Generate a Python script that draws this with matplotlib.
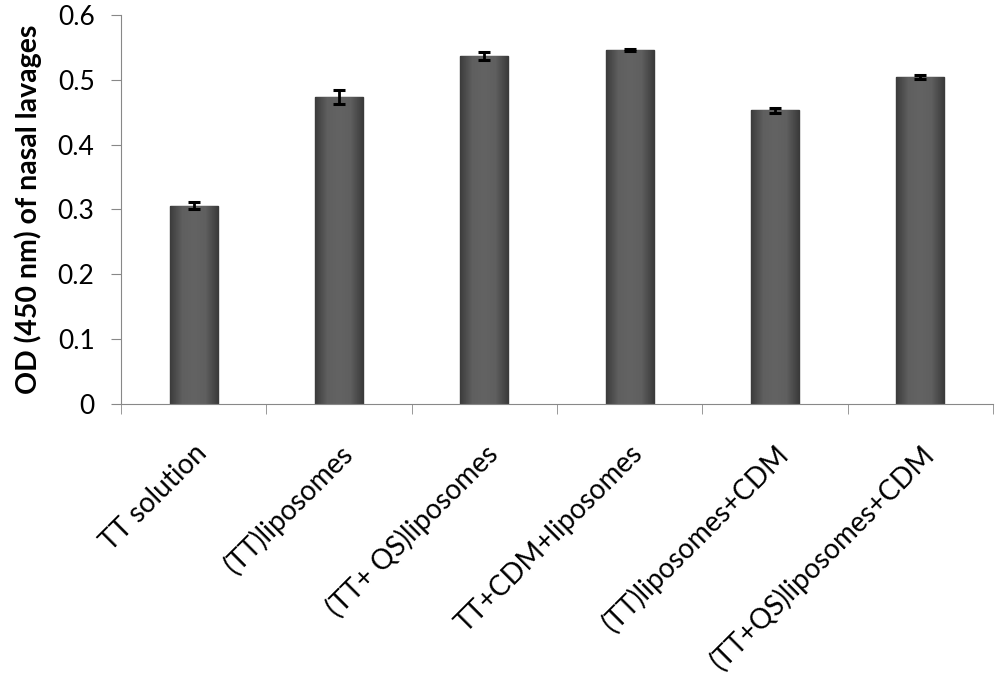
import numpy as np
import matplotlib.pyplot as plt
from matplotlib.ticker import FixedLocator
from matplotlib.colors import LinearSegmentedColormap
import matplotlib.transforms as mtrans

groups = ['TT solution', '(TT)liposomes', '(TT+ QS)liposomes', 'TT+CDM+liposomes',
          '(TT)liposomes+CDM', '(TT+QS)liposomes+CDM']
od = [0.306, 0.474, 0.537, 0.546, 0.453, 0.504]
err = [0.005, 0.011, 0.006, 0.002, 0.004, 0.003]
yticks = [0, 0.1, 0.2, 0.3, 0.4, 0.5, 0.6]
ytick_labels = ['0', '0.1', '0.2', '0.3', '0.4', '0.5', '0.6']

plt.rcParams['font.family'] = ['Lato', 'DejaVu Sans']

fig = plt.figure(figsize=(10, 6.88), dpi=100)
ax = fig.add_axes([0.121, 0.413, 0.872, 0.565])

x = np.arange(len(groups))
bars = ax.bar(x, od, width=0.33, color='#595959', edgecolor='#3a3a3a', linewidth=1.0, zorder=2)

# horizontal shading inside each bar: darker at the sides
shade = LinearSegmentedColormap.from_list('shade', ['#3c3c3c', '#5f5f5f', '#636363', '#5f5f5f', '#3c3c3c'])
grad = np.linspace(0, 1, 64).reshape(1, -1)
for b in bars:
    x0, w, h = b.get_x(), b.get_width(), b.get_height()
    im = ax.imshow(grad, cmap=shade, aspect='auto', extent=[x0, x0 + w, 0, h], zorder=2.1)
    im.set_clip_path(b)

ax.errorbar(x, od, yerr=err, fmt='none', ecolor='black', elinewidth=2,
            capsize=4.5, capthick=2.2, zorder=3)

ax.set_xlim(-0.5, len(groups) - 0.5)
ax.set_ylim(0, 0.6)
ax.set_yticks(yticks)
ax.set_yticklabels(ytick_labels)

ax.set_xticks(x)
ax.set_xticklabels(groups, rotation=45, ha='right', rotation_mode='anchor', fontsize=20)
offset = mtrans.ScaledTranslation(10 / 100, 0, fig.dpi_scale_trans)
for lab in ax.get_xticklabels():
    lab.set_transform(lab.get_transform() + offset)
ax.xaxis.set_minor_locator(FixedLocator(np.arange(-0.5, len(groups), 1.0)))
ax.tick_params(axis='x', which='major', length=0, pad=26)
ax.tick_params(axis='x', which='minor', length=7, color='#888888')
ax.tick_params(axis='y', length=7, color='#888888', labelsize=19, pad=12)

for s in ['top', 'right']:
    ax.spines[s].set_visible(False)
for s in ['left', 'bottom']:
    ax.spines[s].set_color('#888888')

ax.set_ylabel('OD (450 nm) of nasal lavages', fontsize=20.5, fontweight='bold', labelpad=11)

fig.savefig('out.png', dpi=100)
